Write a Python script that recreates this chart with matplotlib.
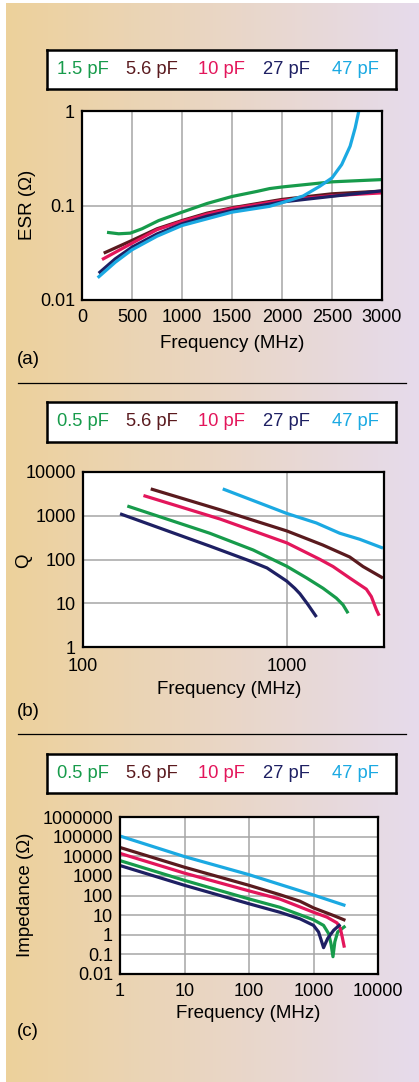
import numpy as np
import matplotlib
matplotlib.use("Agg")
import matplotlib.pyplot as plt
from matplotlib.ticker import FixedLocator, NullLocator, FixedFormatter

plt.rcParams['font.family'] = ['Liberation Sans', 'DejaVu Sans']

W, H = 419, 1082

# ---------------- data ----------------
colors = {'green': '#179B4B', 'maroon': '#5A1A1E', 'pink': '#E3165B',
          'navy': '#1E2063', 'blue': '#1BA9E2'}

legend_a = ['1.5 pF', '5.6 pF', '10 pF', '27 pF', '47 pF']
legend_bc = ['0.5 pF', '5.6 pF', '10 pF', '27 pF', '47 pF']
series_keys = ['green', 'maroon', 'pink', 'navy', 'blue']

# (a) ESR vs frequency
esr_f_green = [250, 367, 483, 600, 767, 1000, 1250, 1500, 1750, 1876, 2000, 2500, 3000]
esr_v_green = [0.052, 0.0502, 0.051, 0.0567, 0.0693, 0.085, 0.105, 0.1245, 0.141, 0.151, 0.157, 0.178, 0.188]
esr_f_maroon = [217, 500, 750, 1000, 1250, 1500, 2000, 2500, 3000]
esr_v_maroon = [0.0313, 0.0427, 0.0567, 0.0693, 0.083, 0.0945, 0.116, 0.133, 0.142]
esr_f_pink = [200, 500, 750, 1000, 1250, 1500, 2000, 2500, 3000]
esr_v_pink = [0.0268, 0.0399, 0.0555, 0.068, 0.081, 0.093, 0.113, 0.127, 0.136]
esr_f_navy = [167, 333, 500, 750, 1000, 1250, 1500, 2000, 2500, 3000]
esr_v_navy = [0.0192, 0.0273, 0.0362, 0.050, 0.064, 0.077, 0.0885, 0.109, 0.125, 0.143]
esr_f_blue = [157, 333, 500, 750, 1000, 1500, 1876, 2000, 2211, 2379, 2500, 2597, 2681, 2732, 2768]
esr_v_blue = [0.0172, 0.0251, 0.034, 0.0473, 0.0614, 0.085, 0.098, 0.107, 0.126, 0.160, 0.196, 0.271, 0.424, 0.664, 1.0]

# (b) Q vs frequency
q_f_green = [165, 419, 684, 1000, 1250, 1507, 1751, 1888, 2000]
q_v_green = [1670, 398, 165, 70, 38, 22, 13.1, 9.2, 5.9]
q_f_maroon = [215, 471, 1000, 1500, 2037, 2367, 2966]
q_v_maroon = [4110, 1368, 450, 215, 114, 69, 37.7]
q_f_pink = [198, 471, 1000, 1452, 1687, 2037, 2457, 2600, 2754, 2840]
q_v_pink = [2900, 840, 240, 101, 69, 37.7, 21, 14.2, 7.1, 5.2]
q_f_navy = [152, 421, 650, 800, 924, 1000, 1094, 1160, 1267, 1399]
q_v_navy = [1110, 201, 95, 64, 41, 32, 22, 16.5, 9.5, 4.85]
q_f_blue = [485, 1000, 1397, 1820, 2280, 2966]
q_v_blue = [4110, 1130, 684, 398, 290, 182]

# (c) Impedance vs frequency
z_f_green = [1, 10, 100, 301, 1000, 1432, 1714, 1863, 2004, 2143, 2371, 3126]
z_v_green = [5990, 590, 67, 25, 5.8, 3.0, 1.15, 0.36, 0.076, 0.44, 1.39, 2.8]
z_f_maroon = [1, 10, 100, 301, 617, 1000, 2053, 3126]
z_v_maroon = [28000, 2760, 330, 110, 51, 23.4, 9.5, 5.4]
z_f_pink = [1, 10, 100, 301, 1000, 1616, 2317, 2610, 2786, 3013]
z_v_pink = [14000, 1380, 172, 66, 14, 7.9, 4.0, 2.05, 0.78, 0.22]
z_f_navy = [1, 10, 100, 301, 617, 1000, 1197, 1318, 1432, 1656, 2053, 2610]
z_v_navy = [3360, 331, 38, 14, 6.5, 3.0, 1.39, 0.52, 0.22, 0.64, 1.69, 3.4]
z_f_blue = [1, 10, 100, 1000, 3126]
z_v_blue = [107000, 9600, 1150, 106, 30.7]

esr_x_ticks = [0, 500, 1000, 1500, 2000, 2500, 3000]
esr_y_ticks = [0.01, 0.1, 1]
esr_y_labels = ['0.01', '0.1', '1']
q_x_ticks = [100, 1000]
q_x_labels = ['100', '1000']
q_y_ticks = [1, 10, 100, 1000, 10000]
q_y_labels = ['1', '10', '100', '1000', '10000']
z_x_ticks = [1, 10, 100, 1000, 10000]
z_x_labels = ['1', '10', '100', '1000', '10000']
z_y_ticks = [0.01, 0.1, 1, 10, 100, 1000, 10000, 100000, 1000000]
z_y_labels = ['0.01', '0.1', '1', '10', '100', '1000', '10000', '100000', '1000000']

# ---------------- figure ----------------
fig = plt.figure(figsize=(W / 100, H / 100), dpi=100)
fig.patch.set_facecolor('white')


def rect(x0, y0, x1, y1):
    return [x0 / W, 1 - y1 / H, (x1 - x0) / W, (y1 - y0) / H]


def fx(x):
    return x / W


def fy(y):
    return 1 - y / H


# gradient background
bg = fig.add_axes(rect(6, 3, W, H), zorder=0)
c0 = np.array([237, 209, 155]) / 255
c1 = np.array([230, 219, 236]) / 255
t = np.linspace(0, 1, 256)[None, :, None]
grad = c0[None, None, :] * (1 - t) + c1[None, None, :] * t
bg.imshow(grad, aspect='auto', extent=[0, 1, 0, 1])
bg.axis('off')

TICK_FS = 13
LAB_FS = 13.5
GRID_C = '#A6A6A6'
LW = 2.3


def legend_box(y0, y1, labels):
    ax = fig.add_axes(rect(47, y0, 396, y1), zorder=2)
    ax.set_xlim(47, 396)
    ax.set_ylim(0, 1)
    ax.set_xticks([])
    ax.set_yticks([])
    ax.set_facecolor('white')
    for s in ax.spines.values():
        s.set_linewidth(1.8)
        s.set_color('black')
    xs = [57, 126, 198, 263, 332]
    for x, lab, k in zip(xs, labels, series_keys):
        ax.text(x, 0.5, lab, color=colors[k], fontsize=LAB_FS - 0.3,
                ha='left', va='center')


def style_axes(ax):
    ax.set_facecolor('white')
    for s in ax.spines.values():
        s.set_linewidth(1.6)
        s.set_color('black')
    ax.tick_params(which='both', length=0, labelsize=TICK_FS, pad=5,
                   colors='black')
    ax.tick_params(axis='x', pad=6.5)
    ax.grid(True, which='major', color=GRID_C, linewidth=1.1)
    ax.set_axisbelow(True)


# ---- panel (a)
legend_box(50, 89, legend_a)
axa = fig.add_axes(rect(82, 111, 382, 300), zorder=2)
style_axes(axa)
axa.set_yscale('log')
axa.set_xlim(0, 3000)
axa.set_ylim(0.01, 1)
axa.xaxis.set_major_locator(FixedLocator(esr_x_ticks))
axa.yaxis.set_major_locator(FixedLocator(esr_y_ticks))
axa.yaxis.set_major_formatter(FixedFormatter(esr_y_labels))
axa.yaxis.set_minor_locator(NullLocator())
esr_data = [(esr_f_green, esr_v_green), (esr_f_maroon, esr_v_maroon),
            (esr_f_pink, esr_v_pink), (esr_f_navy, esr_v_navy),
            (esr_f_blue, esr_v_blue)]
for (f, v), k in zip(esr_data, series_keys):
    axa.plot(f, v, color=colors[k], lw=LW, solid_capstyle='butt',
             solid_joinstyle='round')
fig.text(fx(28), fy(205), 'ESR (Ω)', rotation=90, ha='center', va='center', fontsize=LAB_FS)
fig.text(fx(232), fy(343), 'Frequency (MHz)', ha='center', va='center', fontsize=LAB_FS)
fig.text(fx(17), fy(360), '(a)', ha='left', va='center', fontsize=LAB_FS)

# separator
sep = fig.add_axes([0, 0, 1, 1], zorder=1)
sep.set_xlim(0, W)
sep.set_ylim(H, 0)
sep.axis('off')
sep.plot([18, 406], [383, 383], color='black', lw=0.9)
sep.plot([18, 406], [734, 734], color='black', lw=0.9)

# ---- panel (b)
legend_box(402, 442, legend_bc)
axb = fig.add_axes(rect(83, 472, 384, 647), zorder=2)
style_axes(axb)
axb.set_xscale('log')
axb.set_yscale('log')
axb.set_xlim(100, 3000)
axb.set_ylim(1, 10000)
axb.xaxis.set_major_locator(FixedLocator(q_x_ticks))
axb.xaxis.set_major_formatter(FixedFormatter(q_x_labels))
axb.xaxis.set_minor_locator(NullLocator())
axb.yaxis.set_major_locator(FixedLocator(q_y_ticks))
axb.yaxis.set_major_formatter(FixedFormatter(q_y_labels))
axb.yaxis.set_minor_locator(NullLocator())
axb.tick_params(axis='x', pad=8)
q_data = [(q_f_green, q_v_green), (q_f_maroon, q_v_maroon),
          (q_f_pink, q_v_pink), (q_f_navy, q_v_navy), (q_f_blue, q_v_blue)]
for (f, v), k in zip(q_data, series_keys):
    axb.plot(f, v, color=colors[k], lw=LW, solid_capstyle='butt',
             solid_joinstyle='round')
fig.text(fx(24), fy(561), 'Q', rotation=90, ha='center', va='center', fontsize=LAB_FS)
fig.text(fx(229), fy(690), 'Frequency (MHz)', ha='center', va='center', fontsize=LAB_FS)
fig.text(fx(17), fy(712), '(b)', ha='left', va='center', fontsize=LAB_FS)

# ---- panel (c)
legend_box(754, 793, legend_bc)
axc = fig.add_axes(rect(120, 817, 378, 974), zorder=2)
style_axes(axc)
axc.set_xscale('log')
axc.set_yscale('log')
axc.set_xlim(1, 10000)
axc.set_ylim(0.01, 1000000)
axc.xaxis.set_major_locator(FixedLocator(z_x_ticks))
axc.xaxis.set_major_formatter(FixedFormatter(z_x_labels))
axc.xaxis.set_minor_locator(NullLocator())
axc.yaxis.set_major_locator(FixedLocator(z_y_ticks))
axc.yaxis.set_major_formatter(FixedFormatter(z_y_labels))
axc.yaxis.set_minor_locator(NullLocator())
z_data = [(z_f_green, z_v_green), (z_f_maroon, z_v_maroon),
          (z_f_pink, z_v_pink), (z_f_navy, z_v_navy), (z_f_blue, z_v_blue)]
for (f, v), k in zip(z_data, series_keys):
    axc.plot(f, v, color=colors[k], lw=LW, solid_capstyle='butt',
             solid_joinstyle='round')
fig.text(fx(26), fy(895), 'Impedance (Ω)', rotation=90, ha='center', va='center', fontsize=LAB_FS)
fig.text(fx(248), fy(1014), 'Frequency (MHz)', ha='center', va='center', fontsize=LAB_FS)
fig.text(fx(17), fy(1032), '(c)', ha='left', va='center', fontsize=LAB_FS)

fig.savefig('out.png', dpi=100)
